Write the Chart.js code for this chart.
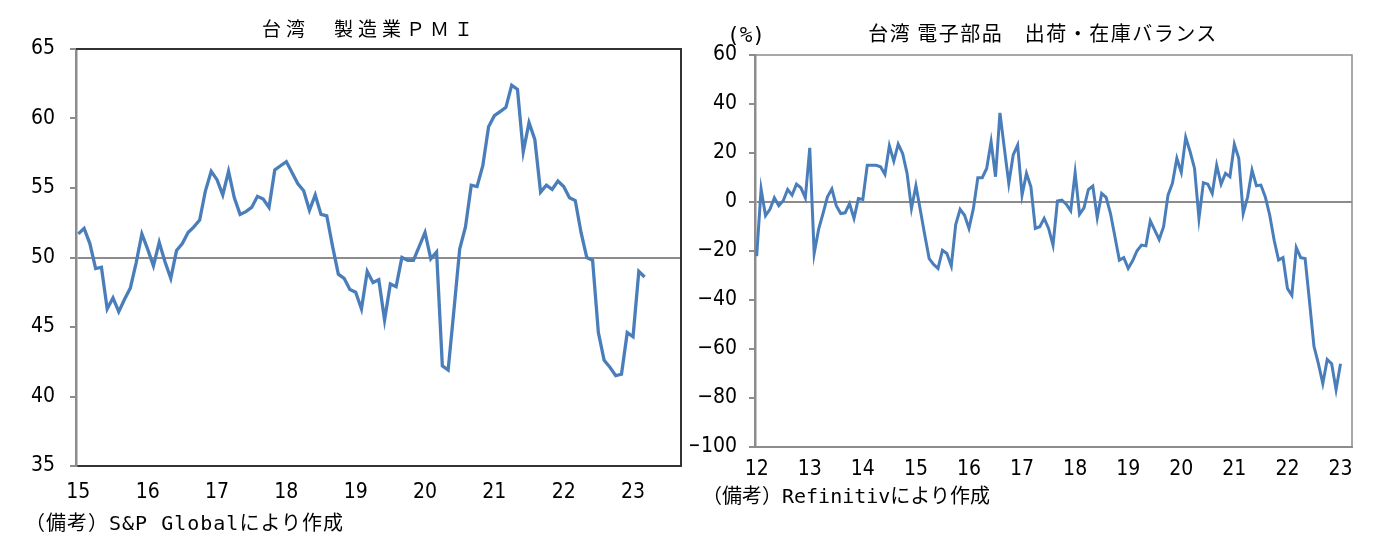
<!DOCTYPE html>
<html>
<head>
<meta charset="utf-8">
<script src="https://cdn.jsdelivr.net/npm/chart.js@4.4.1/dist/chart.umd.min.js"></script>
<style>
  body { margin: 0; background: #fff; width: 1392px; height: 555px; overflow: hidden; position: relative; }
  canvas { position: absolute; top: 0; }
  .txt { position: absolute; white-space: nowrap; color: #000; line-height: 1; font-family: "Noto Sans CJK JP", sans-serif; }
  .mono { font-family: "DejaVu Sans Mono", "Noto Sans CJK JP", monospace; }
</style>
</head>
<body>
<canvas id="pmiChart" width="690" height="555" style="left:0"></canvas>
<canvas id="balChart" width="702" height="555" style="left:690px"></canvas>

<div class="txt" id="title1" style="left:370px;top:27px;transform:translate(-50%,-50%);font-size:19px;letter-spacing:5px">台湾　製造業ＰＭＩ</div>
<div class="txt" id="title2" style="left:1043px;top:33px;transform:translate(-50%,-50%);font-size:20px;letter-spacing:1.5px">台湾 電子部品　出荷・在庫バランス</div>
<div class="txt mono" style="left:727px;top:35px;transform:translateY(-50%);font-size:21px">(%)</div>
<div class="txt mono" style="left:25px;top:523px;transform:translateY(-50%);font-size:20px;letter-spacing:1px">（備考）S&amp;P Globalにより作成</div>
<div class="txt mono" style="left:702px;top:496px;transform:translateY(-50%);font-size:20px">（備考）Refinitivにより作成</div>

<script>
// Taiwan manufacturing PMI, monthly Jan 2015 - Mar 2023
var pmiValues = [
  51.7, 52.1, 51.0, 49.2, 49.3, 46.3, 47.1, 46.1, 47.0, 47.8, 49.6, 51.7,
  50.6, 49.4, 51.1, 49.7, 48.5, 50.5, 51.0, 51.8, 52.2, 52.7, 54.8, 56.2,
  55.6, 54.5, 56.2, 54.3, 53.1, 53.3, 53.6, 54.4, 54.2, 53.6, 56.3, 56.6,
  56.9, 56.1, 55.3, 54.8, 53.4, 54.5, 53.1, 53.0, 50.8, 48.8, 48.5, 47.7,
  47.5, 46.3, 49.0, 48.2, 48.4, 45.5, 48.1, 47.9, 50.0, 49.8, 49.8, 50.8,
  51.8, 49.9, 50.4, 42.2, 41.9, 46.2, 50.6, 52.2, 55.2, 55.1, 56.6, 59.4,
  60.2, 60.5, 60.8, 62.4, 62.1, 57.6, 59.7, 58.5, 54.7, 55.2, 54.9, 55.5,
  55.1, 54.3, 54.1, 51.8, 50.0, 49.8, 44.6, 42.6, 42.1, 41.5, 41.6, 44.6,
  44.3, 49.0, 48.6
];
var pmiYears = ['15', '16', '17', '18', '19', '20', '21', '22', '23'];
var pmiTicks = [35, 40, 45, 50, 55, 60, 65];

// Taiwan electronic parts shipment - inventory balance (%), monthly Jan 2012 - Jan 2023
var balValues = [
  -22.1, 5.3, -5.6, -3.0, 1.7, -1.5, 0.5, 5.1, 2.8, 7.3, 5.8, 1.7,
  22.1, -21.0, -11.2, -4.7, 2.1, 5.3, -1.5, -4.7, -4.4, -0.7, -6.7, 1.4,
  1.0, 15.0, 15.0, 15.0, 14.4, 11.3, 23.0, 16.7, 23.6, 19.8, 11.7, -2.6,
  6.6, -3.3, -13.5, -23.1, -25.5, -27.1, -19.7, -21.0, -26.1, -9.2, -3.0, -5.4,
  -10.8, -2.6, 9.9, 9.9, 13.7, 24.6, 10.3, 36.4, 21.9, 7.6, 19.2, 23.2,
  2.8, 11.7, 6.2, -10.8, -10.1, -6.7, -10.8, -17.6, 0.4, 0.8, -0.9, -3.6,
  11.9, -5.0, -2.4, 5.1, 6.5, -6.4, 3.5, 1.9, -4.7, -14.2, -23.7, -22.7,
  -27.1, -24.0, -19.9, -17.6, -17.9, -7.7, -11.5, -15.3, -10.1, 2.8, 7.6, 17.8,
  12.1, 26.4, 20.5, 13.7, -6.7, 7.9, 7.3, 3.5, 15.0, 7.3, 11.7, 10.3,
  23.5, 17.8, -4.7, 2.1, 13.0, 6.6, 6.9, 2.1, -5.4, -15.6, -23.7, -22.7,
  -35.3, -38.1, -18.6, -22.7, -23.1, -40.8, -58.9, -66.0, -74.1, -64.3, -66.0, -76.6,
  -66.0
];
var balYears = ['12', '13', '14', '15', '16', '17', '18', '19', '20', '21', '22', '23'];
var balTicks = [-100, -80, -60, -40, -20, 0, 20, 40, 60];

var tickFont = { family: '"Liberation Sans Narrow", "DejaVu Sans Condensed", "Liberation Sans", sans-serif', size: 21 };
var lineBlue = '#4a7ebb';
var axisGray = '#8c8c8c';

/* draws the top and right edge of the plot box */
var framePlugin = {
  id: 'frame',
  afterDraw: function (chart, args, opts) {
    var a = chart.chartArea;
    var c = chart.ctx;
    c.save();
    c.strokeStyle = opts.color;
    c.lineWidth = opts.width;
    c.beginPath();
    c.moveTo(a.left, a.top);
    c.lineTo(a.right, a.top);
    c.lineTo(a.right, a.bottom);
    c.stroke();
    c.restore();
  }
};

function toPoints(values) {
  return values.map(function (v, i) { return { x: i, y: v }; });
}

function minusSign(v) {
  return v < 0 ? '\u2212' + Math.abs(v) : String(v);
}

function createChart(id, o) {
  return new Chart(document.getElementById(id), {
    type: 'line',
    data: {
      datasets: [{
        data: toPoints(o.values),
        borderColor: lineBlue,
        borderWidth: o.lineWidth,
        pointRadius: 0,
        tension: 0,
        fill: false
      }]
    },
    plugins: [framePlugin],
    options: {
      responsive: false,
      animation: false,
      layout: { padding: o.padding },
      plugins: {
        legend: { display: false },
        tooltip: { enabled: false },
        frame: { color: o.frameColor, width: o.frameWidth }
      },
      scales: {
        x: {
          type: 'linear',
          min: o.xMin,
          max: o.xMax,
          afterBuildTicks: function (s) {
            s.ticks = o.years.map(function (y, i) { return { value: i * 12 }; });
          },
          afterFit: function (s) { s.height = 44; },
          grid: { display: false, drawTicks: false, tickLength: 0 },
          border: { display: true, color: o.bottomColor, width: 2 },
          ticks: {
            autoSkip: false,
            maxRotation: 0,
            padding: o.xPad,
            color: '#000',
            font: tickFont,
            callback: function (v) { return o.years[Math.round(v / 12)]; }
          }
        },
        y: {
          min: o.ticks[0],
          max: o.ticks[o.ticks.length - 1],
          afterBuildTicks: function (s) {
            s.ticks = o.ticks.map(function (v) { return { value: v }; });
          },
          afterFit: function (s) { s.width = o.yWidth; },
          grid: {
            drawOnChartArea: true,
            color: function (ctx) {
              return ctx.tick && ctx.tick.value === o.refLine ? axisGray : 'rgba(0,0,0,0)';
            },
            lineWidth: 2,
            tickColor: axisGray,
            tickLength: 6
          },
          border: { display: true, color: axisGray, width: 2.5 },
          ticks: {
            padding: o.yPad,
            color: '#000',
            font: tickFont,
            callback: minusSign
          }
        }
      }
    }
  });
}

createChart('pmiChart', {
  values: pmiValues, years: pmiYears, ticks: pmiTicks, refLine: 50,
  xMin: -0.4, xMax: 104.3, lineWidth: 3.3,
  padding: { left: 0, top: 49, right: 9, bottom: 45 },
  yWidth: 76, yPad: 15, xPad: 14,
  frameColor: '#333', frameWidth: 2, bottomColor: '#333'
});

createChart('balChart', {
  values: balValues, years: balYears, ticks: balTicks, refLine: 0,
  xMin: -0.38, xMax: 134.6, lineWidth: 3,
  padding: { left: 0, top: 55, right: 40, bottom: 64 },
  yWidth: 65, yPad: 12, xPad: 10,
  frameColor: axisGray, frameWidth: 1.5, bottomColor: axisGray
});
</script>
</body>
</html>
